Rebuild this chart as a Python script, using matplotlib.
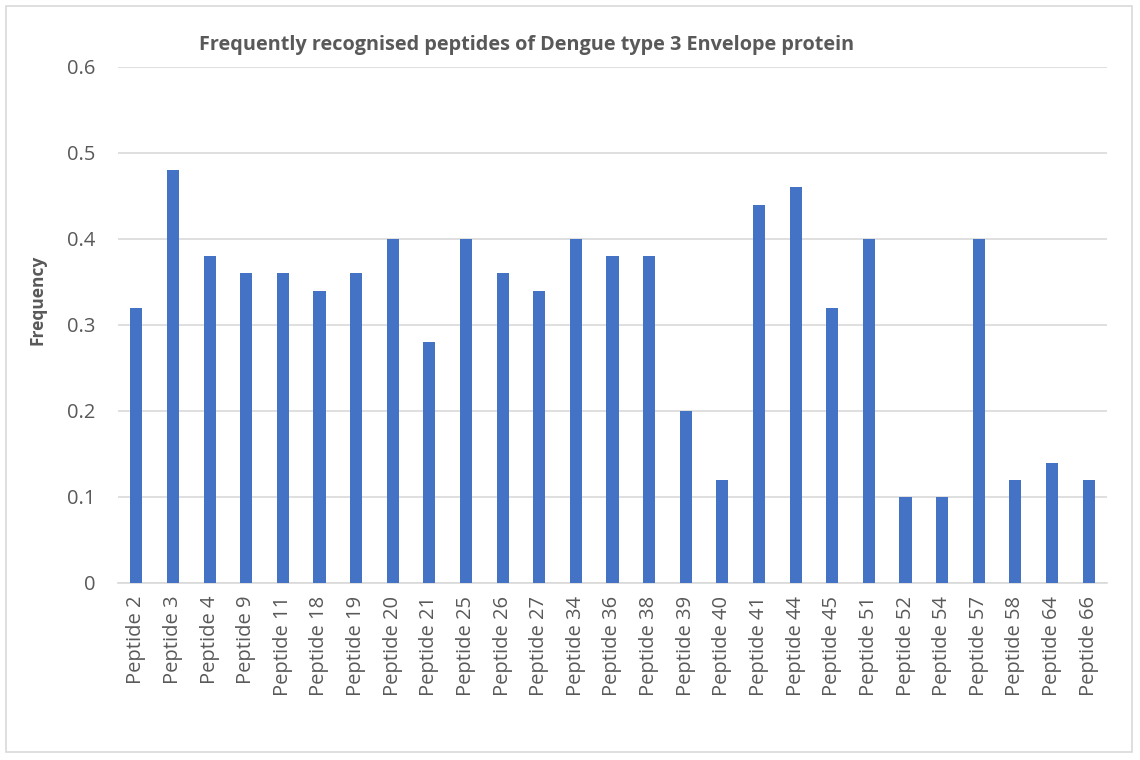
import matplotlib
matplotlib.use("Agg")
import matplotlib.pyplot as plt
from matplotlib.patches import Rectangle

peptides = ['Peptide 2', 'Peptide 3', 'Peptide 4', 'Peptide 9', 'Peptide 11',
            'Peptide 18', 'Peptide 19', 'Peptide 20', 'Peptide 21', 'Peptide 25',
            'Peptide 26', 'Peptide 27', 'Peptide 34', 'Peptide 36', 'Peptide 38',
            'Peptide 39', 'Peptide 40', 'Peptide 41', 'Peptide 44', 'Peptide 45',
            'Peptide 51', 'Peptide 52', 'Peptide 54', 'Peptide 57', 'Peptide 58',
            'Peptide 64', 'Peptide 66']
frequency = [0.32, 0.48, 0.38, 0.36, 0.36, 0.34, 0.36, 0.40, 0.28, 0.40,
             0.36, 0.34, 0.40, 0.38, 0.38, 0.20, 0.12, 0.44, 0.46, 0.32,
             0.40, 0.10, 0.10, 0.40, 0.12, 0.14, 0.12]
y_ticks = [0, 0.1, 0.2, 0.3, 0.4, 0.5, 0.6]

TEXT = '#595959'
plt.rcParams['font.family'] = ['Open Sans', 'DejaVu Sans']


def plot():
    fig = plt.figure(figsize=(11.4, 7.6), dpi=100)
    ax = fig.add_axes([118 / 1140, 1 - 583 / 760, 989 / 1140, 516 / 760])

    x = range(len(peptides))
    ax.bar(x, frequency, width=0.33, color='#4472C4', zorder=3)

    ax.set_xlim(-0.5, len(peptides) - 0.5)
    ax.set_ylim(0, 0.6)
    ax.set_yticks(y_ticks)
    ax.set_yticklabels(['0' if t == 0 else f'{t:.1f}' for t in y_ticks])
    ax.set_xticks(list(x))
    ax.set_xticklabels(peptides, rotation=90)

    ax.grid(axis='y', color='#d9d9d9', linewidth=1.2, zorder=0)
    for side in ['top', 'right', 'left']:
        ax.spines[side].set_visible(False)
    ax.spines['bottom'].set_color('#d9d9d9')
    ax.spines['bottom'].set_linewidth(1.2)
    ax.tick_params(axis='both', length=0, colors=TEXT, labelsize=14.5)
    ax.tick_params(axis='y', pad=16)
    ax.tick_params(axis='x', pad=9)

    fig.text(527 / 1140, 1 - 45 / 760,
             'Frequently recognised peptides of Dengue type 3 Envelope protein',
             ha='center', va='center', fontsize=14.3, fontweight='bold', color=TEXT)
    fig.text(38 / 1140, 1 - 300 / 760, 'Frequency', rotation=90,
             ha='center', va='center', fontsize=12.5, fontweight='bold', color=TEXT)

    fig.patches.append(Rectangle((6 / 1140, 8 / 760), 1126 / 1140, 746 / 760,
                                 transform=fig.transFigure, fill=False,
                                 edgecolor='#d9d9d9', linewidth=1.2))

    fig.savefig('out.png', dpi=100)


if __name__ == '__main__':
    plot()
